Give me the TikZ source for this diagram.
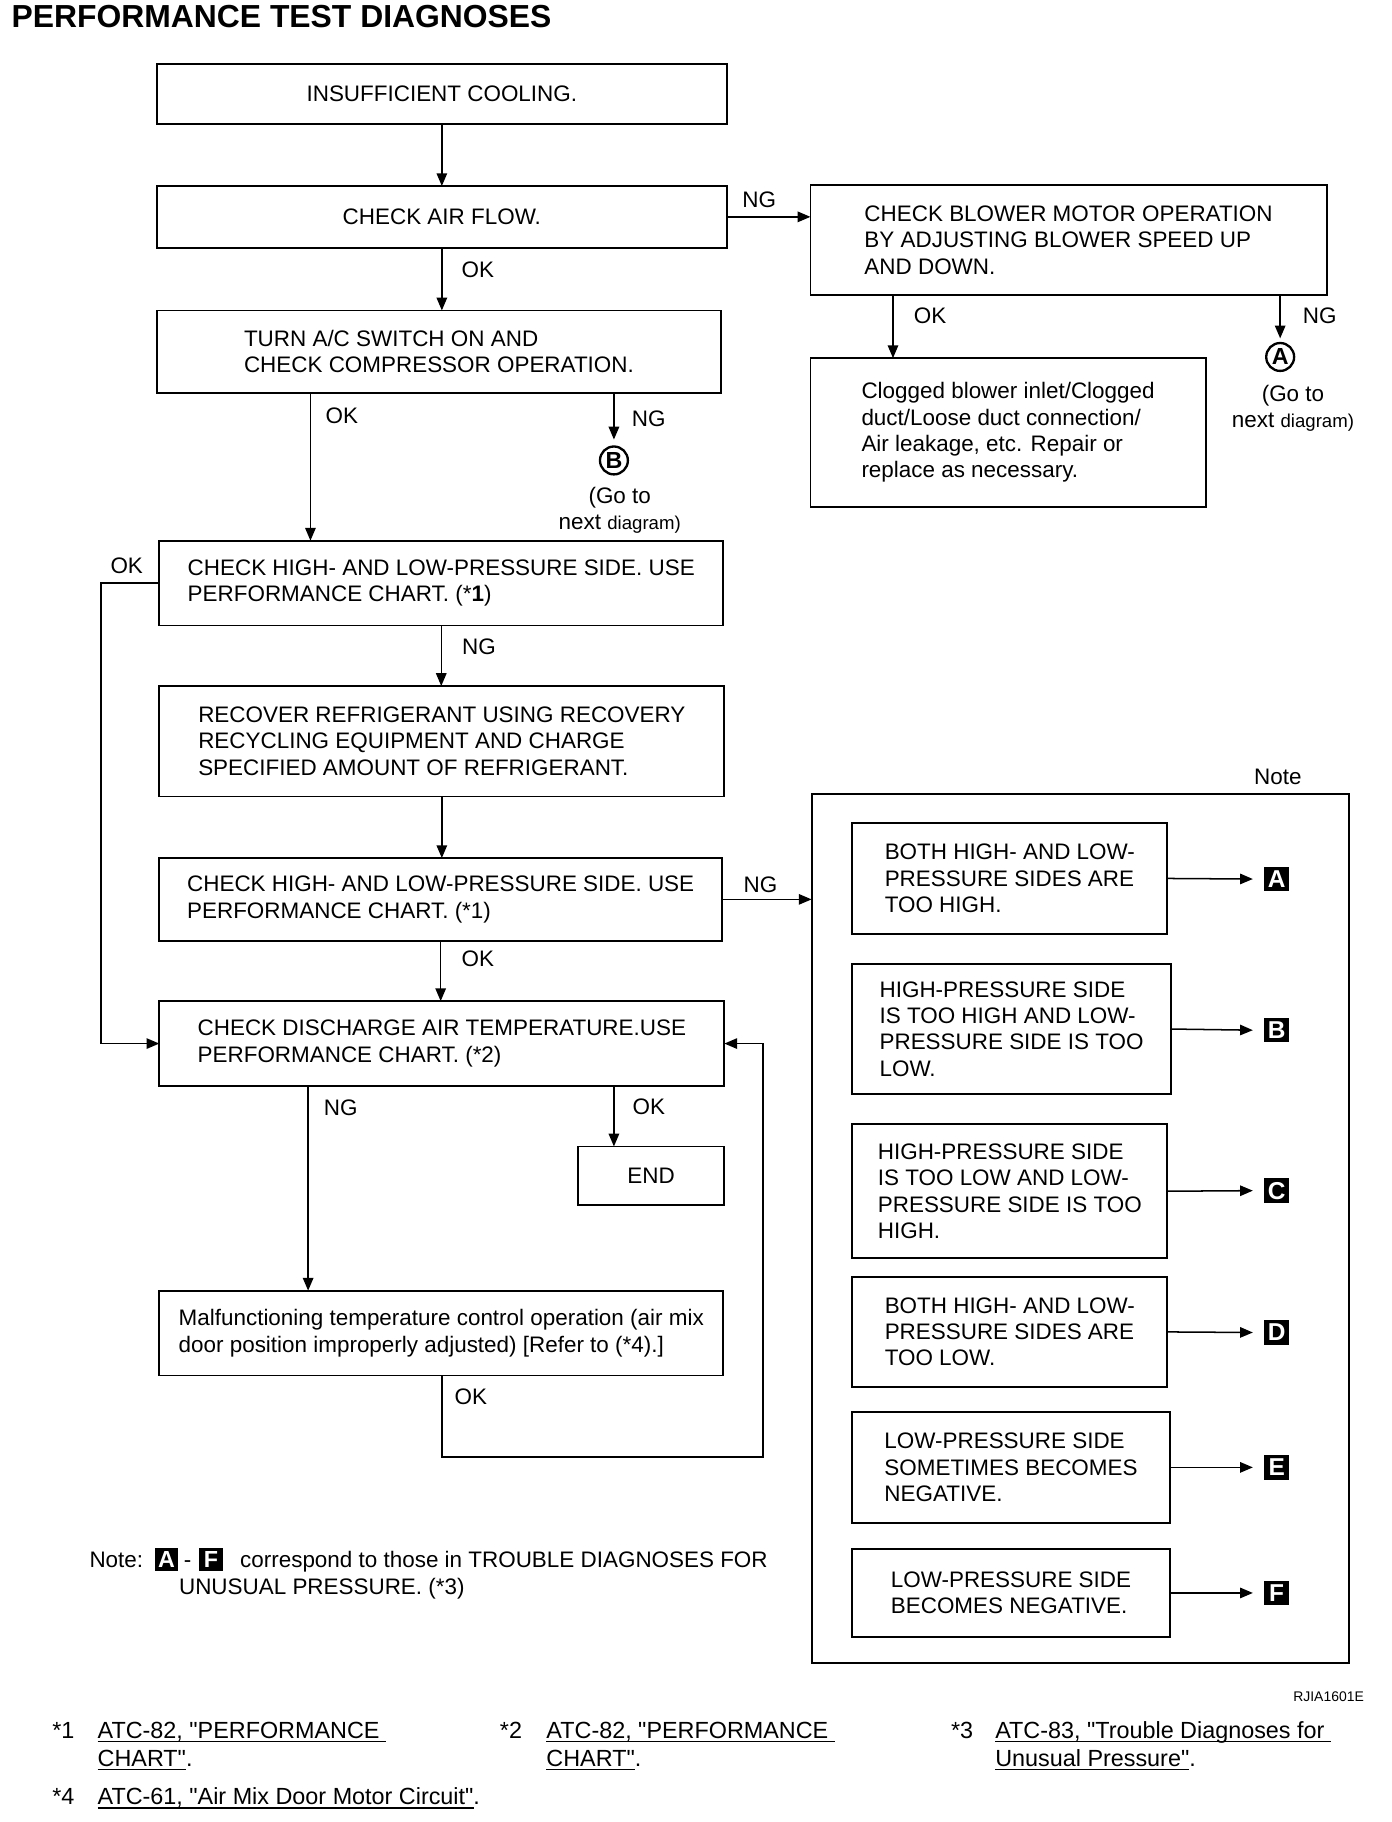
\documentclass[tikz,border=0pt]{standalone}
\usepackage{fontspec}
\setmainfont{Liberation Sans}
\usetikzlibrary{arrows.meta,calc}
\newcommand\mainfs{\fontsize{19.3}{22.6}\selectfont}
\newcommand\footfs{\fontsize{20.1}{24}\selectfont}
\newcommand\titlefs{\fontsize{27.4}{30}\selectfont\bfseries}
\newcommand\qq{\textquotedbl}
\newcommand\myul[1]{\setbox0\hbox{#1}\rlap{\rule[-3.6pt]{\wd0}{1.5pt}}\box0}
\newcommand\blk[1]{\raisebox{-3pt}{\rule{20pt}{20pt}}\hspace{-20pt}\makebox[20pt]{\textcolor{white}{\fontsize{20}{20}\selectfont\bfseries #1}}}
\begin{document}
\begin{tikzpicture}[x=1pt,y=-1pt,
  every node/.style={inner sep=0pt,outer sep=0pt},
  box/.style={draw,line width=1.6pt,align=left,font=\mainfs},
  lbl/.style={font=\mainfs},
  foot/.style={font=\footfs,anchor=base west},
  conn/.style={line width=1.3pt},
  arr/.style={conn,-{Triangle[length=11pt,width=9pt]}},
  circ/.style={circle,draw,line width=2pt,minimum size=24pt,font=\fontsize{20}{20}\selectfont\bfseries},
  sq/.style={fill=black,text=white,minimum size=21pt,font=\fontsize{21}{21}\selectfont\bfseries}]
\useasboundingbox (0,0) rectangle (1197,1567);

\node[font=\titlefs,anchor=base west] (title) at (10,24) {PERFORMANCE TEST DIAGNOSES};

% left column boxes
\node[box,minimum width=490pt,minimum height=52pt] (b1) at (380,81) {INSUFFICIENT COOLING.};
\node[box,minimum width=490pt,minimum height=53pt] (b2) at (380,186.5) {CHECK AIR FLOW.};
\node[box,minimum width=444pt,minimum height=95pt] (b3) at (919,206.5) {CHECK BLOWER MOTOR OPERATION\\BY ADJUSTING BLOWER SPEED UP\\AND DOWN.};
\node[box,minimum width=485pt,minimum height=71pt] (b4) at (377.5,302.5) {TURN A/C SWITCH ON AND\\CHECK COMPRESSOR OPERATION.};
\node[box,minimum width=340pt,minimum height=128pt] (b5) at (867,372) {Clogged blower inlet/Clogged\\duct/Loose duct connection/\\Air leakage, etc. Repair or\\replace as necessary.};
\node[box,minimum width=485pt,minimum height=73pt] (b6) at (379.5,501.5) {CHECK HIGH- AND LOW-PRESSURE SIDE. USE\\PERFORMANCE CHART. (*\textbf{1})};
\node[box,minimum width=486pt,minimum height=95pt] (b7) at (380,637.5) {RECOVER REFRIGERANT USING RECOVERY\\RECYCLING EQUIPMENT AND CHARGE\\SPECIFIED AMOUNT OF REFRIGERANT.};
\node[box,minimum width=484pt,minimum height=71pt] (b8) at (379,773.5) {CHECK HIGH- AND LOW-PRESSURE SIDE. USE\\PERFORMANCE CHART. (*1)};
\node[box,minimum width=486pt,minimum height=73pt] (b9) at (380,897.5) {CHECK DISCHARGE AIR TEMPERATURE.USE\\PERFORMANCE CHART. (*2)};
\node[box,minimum width=126pt,minimum height=50pt] (end) at (560,1011) {END};
\node[box,minimum width=485pt,minimum height=73pt] (b11) at (379.5,1146.5) {Malfunctioning temperature control operation (air mix\\door position improperly adjusted) [Refer to (*4).]};

% go-to markers
\node[circ] (cA) at (1101,307) {A};
\node[lbl,align=center] (gA) at (1112,351) {(Go to\\next {\fontsize{16}{22.6}\selectfont diagram)}};
\node[circ] (cB) at (528,396) {B};
\node[lbl,align=center] (gB) at (533,439) {(Go to\\next {\fontsize{16}{22.6}\selectfont diagram)}};

% note box
\node[draw,line width=1.6pt,minimum width=462pt,minimum height=747pt] (note) at (929,1056.5) {};
\node[lbl] (notelbl) at (1099,668) {Note};
\node[box,minimum width=271pt,minimum height=95pt] (nA) at (868.5,755.5) {BOTH HIGH- AND LOW-\\PRESSURE SIDES ARE\\TOO HIGH.};
\node[box,minimum width=274pt,minimum height=112pt] (nB) at (870,885) {HIGH-PRESSURE SIDE\\IS TOO HIGH AND LOW-\\PRESSURE SIDE IS TOO\\LOW.};
\node[box,minimum width=271pt,minimum height=115pt] (nC) at (868.5,1024.5) {HIGH-PRESSURE SIDE\\IS TOO LOW AND LOW-\\PRESSURE SIDE IS TOO\\HIGH.};
\node[box,minimum width=271pt,minimum height=95pt] (nD) at (868.5,1145.5) {BOTH HIGH- AND LOW-\\PRESSURE SIDES ARE\\TOO LOW.};
\node[box,minimum width=273pt,minimum height=96pt] (nE) at (869.5,1262) {LOW-PRESSURE SIDE\\SOMETIMES BECOMES\\NEGATIVE.};
\node[box,minimum width=273pt,minimum height=76pt] (nF) at (869.5,1370) {LOW-PRESSURE SIDE\\BECOMES NEGATIVE.};
\node[sq] (sA) at (1098,756) {A};
\node[sq] (sB) at (1098,886) {B};
\node[sq] (sC) at (1098,1024) {C};
\node[sq] (sD) at (1098,1146) {D};
\node[sq] (sE) at (1098,1262) {E};
\node[sq] (sF) at (1098,1370) {F};

% connectors
\draw[arr] (b1.south) -- (b1.south |- b2.north);
\draw[arr] (b2.east) -- (b2.east -| b3.west);
\draw[arr] (b2.south) -- (b2.south |- b4.north);
\coordinate (p1) at ($(b3.south west)+(71,0)$);
\draw[arr] (p1) -- (p1 |- b5.north);
\draw[arr,shorten >=4pt] (cA.north |- b3.south) -- (cA.north);
\coordinate (p2) at ($(b4.south west)+(132,0)$);
\draw[arr] (p2) -- (p2 |- b6.north);
\draw[arr,shorten >=6pt] (cB.north |- b4.south) -- (cB.north);
\draw[arr] (b6.west) -- ++(-50,0) |- (b9.west);
\draw[arr] (b6.south) -- (b6.south |- b7.north);
\draw[arr] (b7.south) -- (b7.south |- b8.north);
\draw[arr] (b8.south) -- (b8.south |- b9.north);
\draw[arr] (b8.east) -- (b8.east -| note.west);
\coordinate (p3) at ($(b9.south west)+(128,0)$);
\draw[arr] (p3) -- (p3 |- b11.north);
\coordinate (p4) at ($(b9.south west)+(391,0)$);
\draw[arr] (p4) -- (p4 |- end.north);
\coordinate (p5) at ($(b11.south west)+(243,0)$);
\coordinate (lp) at (656,1253);
\draw[arr] (p5) |- (lp) |- (b9.east);
\foreach \n in {A,B,C,D,E,F}{\draw[arr] (n\n.east) -- ([xshift=-10pt]s\n.west);}

% labels
\node[lbl] (l1) at (653,172) {NG};
\node[lbl] (l2) at (411,232) {OK};
\node[lbl] (l3) at (800,272) {OK};
\node[lbl] (l4) at (1135,272) {NG};
\node[lbl] (l5) at (294,358) {OK};
\node[lbl] (l6) at (558,360) {NG};
\node[lbl] (l7) at (109,487) {OK};
\node[lbl] (l8) at (412,556) {NG};
\node[lbl] (l9) at (654,761) {NG};
\node[lbl] (l10) at (411,825) {OK};
\node[lbl] (l11) at (293,953) {NG};
\node[lbl] (l12) at (558,952) {OK};
\node[lbl] (l13) at (405,1201) {OK};

% note text
\node[lbl,anchor=base west] (nt1) at (77,1348) {Note:\hspace{10pt}\blk{A}\hspace{5pt}-\hspace{7pt}\blk{F}\hspace{15pt}correspond to those in TROUBLE DIAGNOSES FOR};
\node[lbl,anchor=base west] (nt2) at (154,1371) {UNUSUAL PRESSURE. (*3)};
\node[font=\fontsize{12}{12}\selectfont,anchor=base east] (code) at (1173,1463) {RJIA1601E};

% footnotes
\node[foot] (f1s) at (45,1495) {*1};
\node[foot] (f1a) at (84,1495) {\myul{ATC-82, \qq PERFORMANCE\ }};
\node[foot] (f1b) at (84,1519) {\myul{CHART\qq}.};
\node[foot] (f2s) at (430,1495) {*2};
\node[foot] (f2a) at (470,1495) {\myul{ATC-82, \qq PERFORMANCE\ }};
\node[foot] (f2b) at (470,1519) {\myul{CHART\qq}.};
\node[foot] (f3s) at (818,1495) {*3};
\node[foot] (f3a) at (856,1495) {\myul{ATC-83, \qq Trouble Diagnoses for\ }};
\node[foot] (f3b) at (856,1519) {\myul{Unusual Pressure\qq}.};
\node[foot] (f4s) at (45,1552) {*4};
\node[foot] (f4a) at (84,1552) {\myul{ATC-61, \qq Air Mix Door Motor Circuit\qq}.};
\end{tikzpicture}
\end{document}
